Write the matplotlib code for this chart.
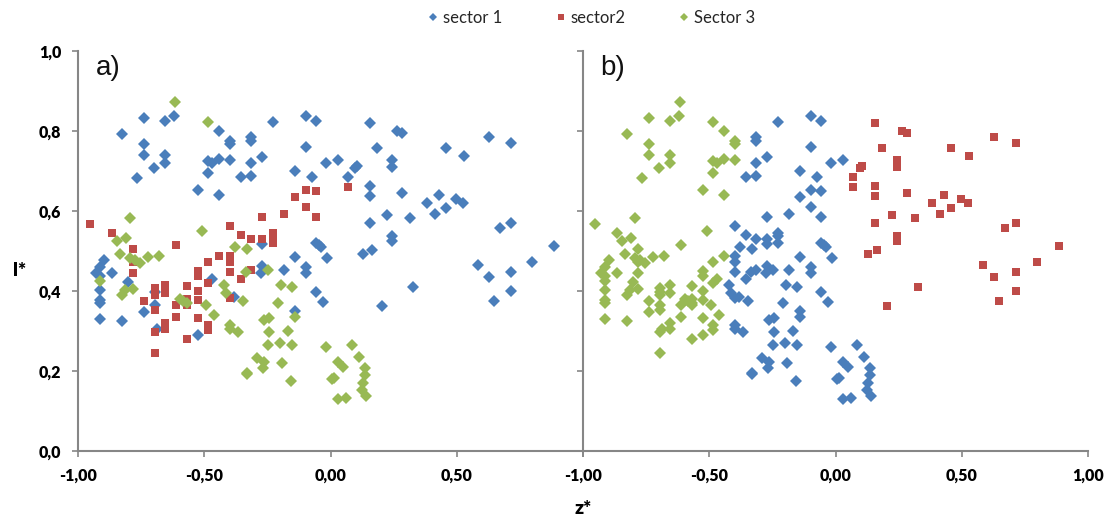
import matplotlib.pyplot as plt
from matplotlib.lines import Line2D

# points coloured by their sector in panel a), with the sector they get in panel b)
s1_z = [-0.740, -0.655, -0.621, -0.824, -0.442, -0.399, -0.399, -0.314, -0.314, -0.740,
        -0.740, -0.655, -0.655, -0.700, -0.768, -0.484, -0.471, -0.442, -0.399, -0.314,
        -0.484, -0.356, -0.314, -0.526, -0.442, -0.897, -0.912, -0.930, -0.913, -0.867,
        -0.912, -0.912, -0.912, -0.912, -0.801, -0.824, -0.697, -0.697, -0.739, -0.688,
        -0.526, -0.471, -0.381, -0.228, -0.098, -0.056, 0.156, 0.265, 0.285, -0.098,
        0.184, -0.270, -0.017, 0.028, 0.104, 0.097, 0.242, 0.242, -0.142, -0.075,
        0.071, 0.156, 0.156, 0.285, 0.225, 0.315, 0.156, 0.242, 0.242, -0.270,
        -0.056, -0.046, -0.038, -0.142, -0.014, 0.127, 0.163, -0.270, -0.274, -0.185,
        -0.098, -0.098, -0.056, -0.030, 0.203, 0.328, -0.139, 0.456, 0.530, 0.628,
        0.713, 0.383, 0.430, 0.413, 0.456, 0.499, 0.523, 0.670, 0.713, 0.884,
        0.584, 0.628, 0.713, 0.797, 0.713, 0.649]
s1_l = [0.832, 0.826, 0.838, 0.792, 0.799, 0.776, 0.767, 0.786, 0.775, 0.768,
        0.740, 0.739, 0.719, 0.708, 0.683, 0.725, 0.719, 0.730, 0.727, 0.721,
        0.695, 0.686, 0.688, 0.653, 0.640, 0.478, 0.461, 0.444, 0.438, 0.444,
        0.403, 0.378, 0.369, 0.329, 0.423, 0.325, 0.398, 0.366, 0.348, 0.304,
        0.290, 0.429, 0.386, 0.823, 0.838, 0.825, 0.820, 0.801, 0.794, 0.761,
        0.757, 0.736, 0.719, 0.728, 0.713, 0.708, 0.728, 0.711, 0.700, 0.684,
        0.684, 0.663, 0.638, 0.644, 0.590, 0.582, 0.571, 0.538, 0.526, 0.518,
        0.521, 0.514, 0.509, 0.484, 0.482, 0.493, 0.503, 0.463, 0.444, 0.453,
        0.461, 0.446, 0.398, 0.372, 0.363, 0.411, 0.351, 0.758, 0.738, 0.786,
        0.769, 0.621, 0.639, 0.592, 0.608, 0.629, 0.619, 0.557, 0.570, 0.513,
        0.465, 0.434, 0.448, 0.472, 0.400, 0.376]
s1_b = [3, 3, 3, 3, 3, 3, 3, 1, 1, 3,
        3, 3, 3, 3, 3, 3, 3, 3, 3, 1,
        3, 1, 1, 3, 3, 3, 3, 3, 3, 3,
        3, 3, 3, 3, 3, 3, 3, 3, 3, 3,
        3, 3, 1, 1, 1, 1, 2, 2, 2, 1,
        2, 1, 1, 1, 2, 2, 2, 2, 1, 1,
        2, 2, 2, 2, 2, 2, 2, 2, 2, 1,
        1, 1, 1, 1, 1, 2, 2, 1, 1, 1,
        1, 1, 1, 1, 2, 2, 1, 2, 2, 2,
        2, 2, 2, 2, 2, 2, 2, 2, 2, 2,
        2, 2, 2, 2, 2, 2]

s2_z = [-0.954, -0.867, -0.782, -0.612, -0.398, -0.356, -0.314, -0.782, -0.782, -0.526,
        -0.526, -0.484, -0.442, -0.398, -0.398, -0.398, -0.356, -0.697, -0.697, -0.739,
        -0.697, -0.654, -0.654, -0.611, -0.611, -0.654, -0.654, -0.697, -0.697, -0.568,
        -0.568, -0.568, -0.568, -0.526, -0.526, -0.526, -0.484, -0.484, -0.484, -0.398,
        0.071, -0.098, -0.056, -0.142, -0.098, -0.270, -0.185, -0.056, -0.270, -0.228,
        -0.228, -0.228, -0.314]
s2_l = [0.568, 0.546, 0.506, 0.514, 0.563, 0.539, 0.529, 0.473, 0.445, 0.451,
        0.438, 0.472, 0.488, 0.488, 0.473, 0.448, 0.430, 0.407, 0.390, 0.375,
        0.353, 0.415, 0.395, 0.366, 0.334, 0.319, 0.306, 0.298, 0.244, 0.413,
        0.379, 0.366, 0.280, 0.400, 0.378, 0.333, 0.421, 0.315, 0.303, 0.382,
        0.661, 0.653, 0.650, 0.636, 0.609, 0.586, 0.593, 0.584, 0.530, 0.546,
        0.538, 0.519, 0.453]
s2_b = [3, 3, 3, 3, 1, 1, 1, 3, 3, 3,
        3, 3, 3, 1, 1, 1, 1, 3, 3, 3,
        3, 3, 3, 3, 3, 3, 3, 3, 3, 3,
        3, 3, 3, 3, 3, 3, 3, 3, 3, 1,
        2, 1, 1, 1, 1, 1, 1, 1, 1, 1,
        1, 1, 1]

s3_z = [-0.617, -0.484, -0.793, -0.809, -0.847, -0.510, -0.834, -0.793, -0.773, -0.754,
        -0.722, -0.679, -0.377, -0.332, -0.335, -0.912, -0.824, -0.814, -0.782, -0.596,
        -0.583, -0.570, -0.494, -0.463, -0.421, -0.415, -0.347, -0.399, -0.399, -0.368,
        -0.331, -0.246, -0.197, -0.152, -0.208, -0.141, -0.263, -0.242, -0.242, -0.167,
        -0.249, -0.200, -0.151, -0.018, 0.085, -0.291, -0.263, -0.267, -0.193, -0.329,
        -0.158, 0.114, 0.028, 0.048, 0.137, 0.137, 0.013, 0.007, 0.127, 0.123,
        0.142, 0.031, 0.060]
s3_l = [0.873, 0.822, 0.583, 0.533, 0.525, 0.549, 0.493, 0.482, 0.478, 0.469,
        0.486, 0.488, 0.511, 0.504, 0.447, 0.426, 0.389, 0.403, 0.404, 0.379,
        0.374, 0.371, 0.366, 0.340, 0.415, 0.396, 0.376, 0.315, 0.304, 0.298,
        0.194, 0.453, 0.415, 0.411, 0.371, 0.336, 0.328, 0.332, 0.298, 0.300,
        0.264, 0.270, 0.264, 0.259, 0.265, 0.233, 0.223, 0.207, 0.219, 0.193,
        0.176, 0.234, 0.222, 0.209, 0.208, 0.190, 0.182, 0.180, 0.171, 0.153,
        0.138, 0.129, 0.132]
s3_b = [3, 3, 3, 3, 3, 3, 3, 3, 3, 3,
        3, 3, 1, 1, 1, 3, 3, 3, 3, 3,
        3, 3, 3, 3, 1, 1, 1, 1, 1, 1,
        1, 1, 1, 1, 1, 1, 1, 1, 1, 1,
        1, 1, 1, 1, 1, 1, 1, 1, 1, 1,
        1, 1, 1, 1, 1, 1, 1, 1, 1, 1,
        1, 1, 1]

sector_names = ['sector 1', 'sector2', 'Sector 3']
panel_titles = ['a)', 'b)']
x_ticks = [-1.0, -0.5, 0.0, 0.5, 1.0]
x_ticklabels = ['-1,00', '-0,50', '0,00', '0,50', '1,00']
y_ticks = [0.0, 0.2, 0.4, 0.6, 0.8, 1.0]
y_ticklabels = ['0,0', '0,2', '0,4', '0,6', '0,8', '1,0']

colors = {1: '#4a7ebb', 2: '#be4b48', 3: '#98b954'}
markers = {1: 'D', 2: 's', 3: 'D'}
sizes = {1: 6.0, 2: 5.4, 3: 6.0}

z_all = s1_z + s2_z + s3_z
l_all = s1_l + s2_l + s3_l
sector_a = [1] * len(s1_z) + [2] * len(s2_z) + [3] * len(s3_z)
sector_b = s1_b + s2_b + s3_b

plt.rcParams['font.family'] = ['Lato', 'DejaVu Sans']
axis_grey = '#868686'

fig = plt.figure(figsize=(11.18, 5.2), dpi=100)
ax_a = fig.add_axes([78 / 1118, 69 / 520, 505 / 1118, 400 / 520])
ax_b = fig.add_axes([583 / 1118, 69 / 520, 505 / 1118, 400 / 520])

for ax, labels, title in [(ax_a, sector_a, panel_titles[0]), (ax_b, sector_b, panel_titles[1])]:
    for k in (1, 2, 3):
        zs = [z for z, s in zip(z_all, labels) if s == k]
        ls = [l for l, s in zip(l_all, labels) if s == k]
        ax.plot(zs, ls, linestyle='none', marker=markers[k], markersize=sizes[k],
                color=colors[k], markeredgewidth=0)
    ax.set_xlim(-1, 1)
    ax.set_ylim(0, 1)
    ax.set_xticks(x_ticks)
    ax.set_yticks(y_ticks)
    for side in ('top', 'right'):
        ax.spines[side].set_visible(False)
    for side in ('left', 'bottom'):
        ax.spines[side].set_color(axis_grey)
        ax.spines[side].set_linewidth(1.5)
    ax.tick_params(direction='out', length=4, width=1.2, color=axis_grey,
                   labelsize=11.5, pad=8)
    ax.text(0.035, 0.99, title, transform=ax.transAxes, fontsize=20,
            family='Liberation Sans', va='top', ha='left', color='#111111')

ax_a.set_xticklabels(x_ticklabels[:-1] + [''], fontweight='heavy')
ax_b.set_xticklabels(x_ticklabels, fontweight='heavy')
ax_a.set_yticklabels(y_ticklabels, fontweight='heavy')
ax_b.set_yticklabels([''] * len(y_ticks))

fig.text(583 / 1118, 12 / 520, 'z*', fontsize=14, fontweight='heavy', ha='center', va='center')
fig.text(20 / 1118, 250 / 520, 'l*', fontsize=14, fontweight='heavy', ha='center', va='center')

handles = [Line2D([], [], linestyle='none', marker=markers[k], markersize=4.5,
                  color=colors[k], markeredgewidth=0) for k in (1, 2, 3)]
fig.legend(handles, sector_names, loc='center', bbox_to_anchor=(590 / 1118, 1 - 18 / 520),
           ncol=3, frameon=False, fontsize=12, handletextpad=0.1, columnspacing=3.0,
           handlelength=1.0, labelcolor='#262626')

fig.savefig('out.png', dpi=100)
